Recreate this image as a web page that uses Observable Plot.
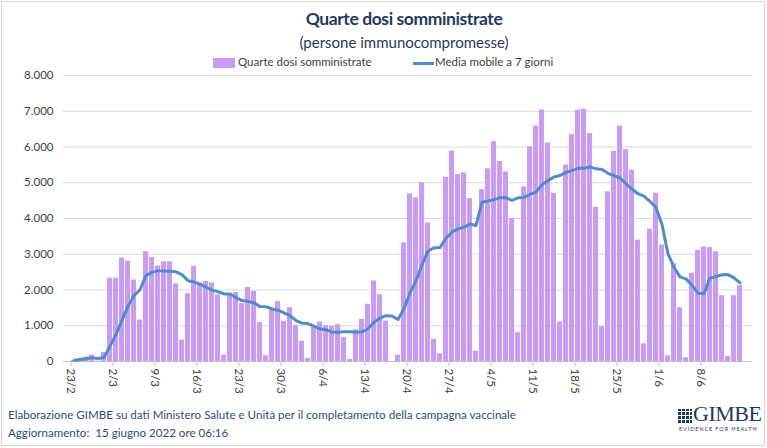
<!DOCTYPE html>
<html>
<head>
<meta charset="utf-8">
<script src="https://cdn.jsdelivr.net/npm/d3@7"></script>
<script src="https://cdn.jsdelivr.net/npm/@observablehq/plot@0.6"></script>
<style>
  html, body { margin: 0; padding: 0; background: #ffffff; }
  #wrap { position: relative; width: 767px; height: 448px; overflow: hidden; font-family: Lato, "Open Sans", sans-serif; background: #fff; }
  #frame { position: absolute; left: 1px; top: 1px; width: 764px; height: 445px; border: 1px solid #d4d4d4; box-sizing: border-box; }
  .title { position: absolute; left: 204px; width: 400px; text-align: center; color: #1f3a60; white-space: nowrap; }
  #t1 { top: 8px; font-size: 17.5px; font-weight: 700; letter-spacing: -0.4px; }
  #t2 { top: 33px; font-size: 15px; }
  .leg { position: absolute; font-size: 11.5px; color: #404040; white-space: nowrap; }
  #chart { position: absolute; left: 0; top: 60px; }
  .foot { position: absolute; left: 8px; font-size: 11.6px; color: #2c4f73; white-space: nowrap; line-height: 14px; }
  #logo { position: absolute; left: 678px; top: 404px; width: 76px; height: 30px; }
  #logoIcon { position: absolute; left: 0; top: 5px; width: 14px; height: 14px;
    background:
      repeating-linear-gradient(90deg, transparent 0 3px, #fff 3px 4px),
      repeating-linear-gradient(0deg, transparent 0 3px, #fff 3px 4px), #1f3a60; }
  #logoText { position: absolute; left: 15px; top: 0; font-family: "Liberation Serif", "DejaVu Serif", serif; font-size: 22px; line-height: 20px; height: 20px; color: #1f3a60; letter-spacing: -0.5px; }
  #logoSub { position: absolute; left: 1px; top: 22px; font-size: 5.5px; line-height: 6px; letter-spacing: 0.9px; color: #1f3a60; white-space: nowrap; }
</style>
</head>
<body>
<div id="wrap">
  <div id="frame"></div>
  <div class="title" id="t1">Quarte dosi somministrate</div>
  <div class="title" id="t2">(persone immunocompromesse)</div>
  <div id="legBar" style="position:absolute;left:213px;top:58px;width:22px;height:10px;"></div>
  <div class="leg" style="left:238px;top:55px;">Quarte dosi somministrate</div>
  <div id="legLine" style="position:absolute;left:413px;top:62px;width:21px;height:3px;"></div>
  <div class="leg" style="left:435px;top:55px;">Media mobile a 7 giorni</div>
  <div id="chart"></div>
  <div class="foot" style="top:408px;">Elaborazione GIMBE su dati Ministero Salute e Unità per il completamento della campagna vaccinale</div>
  <div class="foot" style="top:426px;">Aggiornamento:&nbsp; 15 giugno 2022 ore 06:16</div>
  <div id="logo">
    <div id="logoIcon"></div>
    <div id="logoText">GIMBE</div>
    <div id="logoSub">EVIDENCE FOR HEALTH</div>
  </div>
</div>
<script>
// ---- Data ----
const startDate = "2022-02-23";
const doses = [
  30, 80, 120, 180, 10, 250, 2330,
  2330, 2890, 2810, 2280, 1160, 3075, 2910,
  2670, 2790, 2790, 2170, 600, 1900, 2660,
  2200, 2240, 2200, 1860, 175, 1900, 1930,
  1620, 2070, 1960, 1090, 160, 1460, 1675,
  1120, 1505, 1010, 570, 85, 965, 1105,
  1000, 985, 1030, 670, 60, 890, 1180,
  1600, 2250, 1870, 1130, 0, 178, 3320,
  4690, 4580, 5000, 3875, 620, 215, 5155,
  5885, 5230, 5275, 4555, 290, 4810, 5390,
  6150, 5595, 5305, 3995, 805, 4885, 6005,
  6585, 7035, 6110, 4705, 1105, 5495, 6345,
  7035, 7055, 6380, 4315, 975, 4745, 5875,
  6585, 5925, 5350, 3395, 495, 3705, 4705,
  3260, 160, 2735, 1505, 105, 2470, 3110,
  3205, 3185, 3070, 1840, 140, 1840, 2125
];
const movingAvg = [
  30, 55, 77, 103, 84, 112, 429,
  757, 1159, 1543, 1843, 2007, 2411, 2494,
  2542, 2528, 2525, 2509, 2429, 2261, 2226,
  2159, 2080, 1996, 1951, 1891, 1891, 1786,
  1704, 1679, 1645, 1535, 1533, 1470, 1434,
  1362, 1281, 1146, 1071, 1061, 990, 909,
  891, 817, 820, 834, 831, 820, 831,
  916, 1097, 1217, 1283, 1274, 1173, 1478,
  1920, 2253, 2700, 3092, 3180, 3186, 3448,
  3619, 3711, 3751, 3848, 3801, 4457, 4491,
  4529, 4581, 4585, 4505, 4579, 4589, 4677,
  4739, 4945, 5060, 5161, 5204, 5291, 5340,
  5404, 5407, 5446, 5390, 5371, 5264, 5197,
  5133, 4971, 4824, 4693, 4624, 4476, 4309,
  3834, 3010, 2636, 2366, 2311, 2134, 1906,
  1899, 2331, 2379, 2426, 2431, 2341, 2201
];
const tickLabels = ["23/2","2/3","9/3","16/3","23/3","30/3","6/4","13/4","20/4","27/4","4/5","11/5","18/5","25/5","1/6","8/6"];
const yTickValues = [0, 1000, 2000, 3000, 4000, 5000, 6000, 7000, 8000];

const barColor = "#c99bf6";
const lineColor = "#4f8dca";
document.getElementById("legBar").style.background = barColor;
document.getElementById("legLine").style.background = lineColor;

// ---- Build table ----
const start = new Date(startDate + "T00:00:00Z");
const days = doses.map((_, i) => d3.utcDay.offset(start, i));
const table = days.map((date, i) => ({date, doses: doses[i], avg: movingAvg[i]}));
const tickDates = tickLabels.map((_, k) => days[k * 7]);
const labelOf = new Map(tickDates.map((d, k) => [+d, tickLabels[k]]));

const W = 767, ML = 65, MR = 18;
const step = (W - ML - MR) / days.length;
const itFmt = d => d3.format(",")(d).replace(/,/g, ".");

const plot = Plot.plot({
  width: W,
  height: 341,
  marginLeft: ML,
  marginRight: MR,
  marginTop: 15,
  marginBottom: 40,
  style: {fontFamily: "Lato, 'Open Sans', sans-serif", fontSize: "11.5px", color: "#404040", background: "transparent", overflow: "visible"},
  x: {type: "band", domain: days, paddingInner: 0.16, paddingOuter: 0.08},
  y: {domain: [0, 8000]},
  marks: [
    Plot.gridY(yTickValues, {stroke: "#d9d9d9", strokeOpacity: 1, insetLeft: -2, insetRight: -3}),
    Plot.barY(table, {x: "date", y: "doses", fill: barColor}),
    Plot.ruleY([0], {stroke: "#bfbfbf"}),
    Plot.lineY(table, {x: "date", y: "avg", stroke: lineColor, strokeWidth: 3, strokeLinejoin: "round"}),
    Plot.axisY(yTickValues, {tickSize: 0, tickPadding: 12, tickFormat: itFmt, label: null, fill: "#404040"}),
    Plot.axisX(tickDates, {tickSize: 5, tickPadding: 2, tickRotate: 90, tickFormat: d => labelOf.get(+d), dx: -step / 2, label: null, stroke: "#bfbfbf", fill: "#404040"})
  ]
});
document.getElementById("chart").appendChild(plot);
</script>
</body>
</html>
